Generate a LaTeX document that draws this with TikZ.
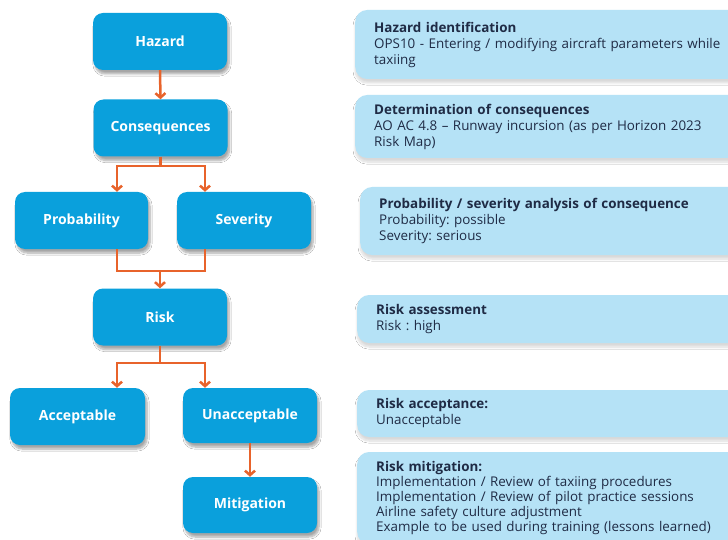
\documentclass[tikz,border=0pt]{standalone}
\usepackage{fontspec}
\setmainfont{Open Sans}
\usetikzlibrary{shadows.blur,arrows.meta}
\definecolor{bluebox}{HTML}{0AA0DC}
\definecolor{lightbox}{HTML}{B5E2F6}
\definecolor{orangeline}{HTML}{E8632B}
\definecolor{darktext}{HTML}{1F2B45}
\tikzset{
  lbox/.style={rectangle, rounded corners=10pt, fill=bluebox, text=white,
    font=\bfseries\fontsize{14}{16}\selectfont, minimum width=134pt,
    minimum height=57pt, inner sep=0pt,
    blur shadow={shadow xshift=2pt, shadow yshift=-4pt, shadow blur steps=8, shadow opacity=35}},
  rbox/.style={rectangle, rounded corners=12pt, fill=lightbox, text=darktext,
    anchor=west, minimum width=400pt, text width=365pt, align=left,
    inner xsep=19pt, inner ysep=0pt,
    font=\frenchspacing\fontsize{13.4}{16}\selectfont,
    blur shadow={shadow xshift=0pt, shadow yshift=-4pt, shadow blur steps=8, shadow opacity=15}},
  line/.style={draw=orangeline, line width=2.5pt},
  arr/.style={line, -{Straight Barb[length=4.5pt,width=10pt,line width=2.5pt]}}
}
\begin{document}
\begin{tikzpicture}[x=1pt,y=-1pt]
\clip (0,0) rectangle (728,540);
\fill[white] (0,0) rectangle (728,540);

% left flow boxes
\node[lbox] (hazard) at (160,41.5) {Hazard};
\node[lbox] (cons) at (160.5,128) {Consequences};
\node[lbox, minimum width=133pt] (prob) at (81.5,220.5) {Probability};
\node[lbox] (sev) at (244,220.5) {Severity};
\node[lbox] (risk) at (160,317) {Risk};
\node[lbox, minimum width=135pt, minimum height=57pt] (acc) at (77.5,416.5) {Acceptable};
\node[lbox, minimum width=134pt, minimum height=55pt] (unacc) at (250,415.5) {Unacceptable};
\node[lbox, minimum width=134pt, minimum height=56pt] (mit) at (250,505) {Mitigation};

% helper coordinates
\coordinate (xl) at (117,0);
\coordinate (xr) at (205,0);
\coordinate (j1) at (0,166);
\coordinate (j2) at (0,271);
\coordinate (j3) at (0,363);

% connectors
\draw[arr] (hazard.south) -- (cons.north);
\draw[line] (cons.south) -- (cons.south |- j1);
\draw[arr] (cons.south |- j1) -| (prob.north -| xl);
\draw[arr] (cons.south |- j1) -| (sev.north -| xr);
\draw[line] (prob.south -| xl) -- (j2 -| xl) -- (j2 -| xr) -- (sev.south -| xr);
\draw[arr] (risk.north |- j2) -- (risk.north);
\draw[line] (risk.south) -- (risk.south |- j3);
\draw[arr] (risk.south |- j3) -| (acc.north -| xl);
\draw[arr] (risk.south |- j3) -| (unacc.north -| xr);
\draw[arr] (unacc.south) -- (mit.north);

% right description boxes
\node[rbox, minimum height=69pt] (d1) at (355,44.5)
  {{\bfseries Hazard identification}\\OPS10 - Entering / modifying aircraft parameters while\\taxiing};
\node[rbox, minimum height=63pt] (d2) at (355,126.5)
  {{\bfseries Determination of consequences}\\AO AC 4.8 – Runway incursion (as per Horizon 2023\\Risk Map)};
\node[rbox, minimum height=68pt] (d3) at (360,221)
  {{\bfseries Probability / severity analysis of consequence}\\Probability: possible\\Severity: serious};
\node[rbox, minimum height=48pt] (d4) at (357,319)
  {{\bfseries Risk assessment}\\Risk : high};
\node[rbox, minimum height=47pt] (d5) at (357,413.5)
  {{\bfseries Risk acceptance:}\\Unacceptable};
\node[rbox, minimum height=92pt, font=\frenchspacing\fontsize{13.4}{15}\selectfont] (d6) at (357,498)
  {{\bfseries Risk mitigation:}\\Implementation / Review of taxiing procedures\\Implementation / Review of pilot practice sessions\\Airline safety culture adjustment\\Example to be used during training (lessons learned)};
\end{tikzpicture}
\end{document}
